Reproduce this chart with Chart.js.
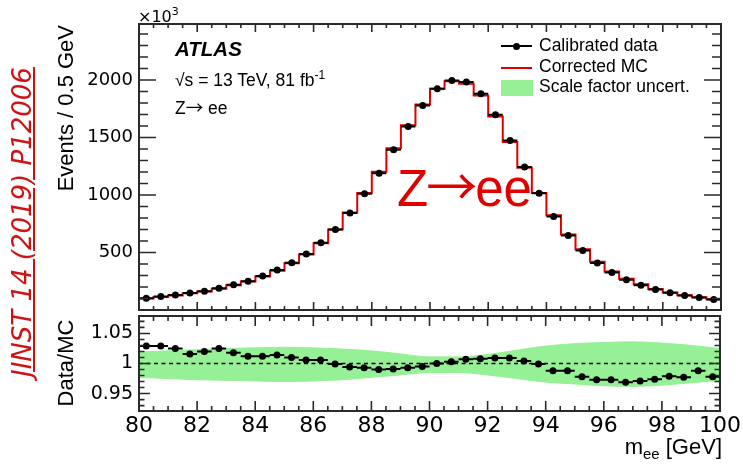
<!DOCTYPE html>
<html>
<head>
<meta charset="utf-8">
<title>Z to ee mass spectrum</title>
<script src="https://cdn.jsdelivr.net/npm/chart.js@4.4.0/dist/chart.umd.min.js"></script>
<style>
html, body { margin: 0; padding: 0; background: #fff; }
#page { position: relative; width: 743px; height: 469px; overflow: hidden;
        font-family: 'Liberation Sans', Arial, sans-serif; color: #000; }
#page canvas { position: absolute; left: 0; top: 0; }
.t { position: absolute; white-space: nowrap; line-height: 1; }
.sym { position: absolute; }
.arrow { font-family: 'Noto Sans CJK JP', 'DejaVu Sans'; line-height: 1; }
</style>
</head>
<body>
<div id="page">
  <canvas id="mainChart" width="743" height="469"></canvas>
  <canvas id="ratioChart" width="743" height="469"></canvas>

  <!-- journal reference, rotated -->
  <div class="t" style="left:22px; top:222px; transform:translate(-50%,-50%) rotate(-90deg);
       font-family:'DejaVu Sans'; font-style:italic; font-size:26px; color:#cc1111; text-decoration:underline;">JINST 14 (2019) P12006</div>

  <!-- axis titles -->
  <div class="t" style="left:66px; top:25px; font-size:22px; transform-origin:0 0; transform:rotate(-90deg) translate(-100%,-50%);">Events / 0.5 GeV</div>
  <div class="t" style="left:66px; top:363px; font-size:22px; transform:translate(-50%,-50%) rotate(-90deg);">Data/MC</div>
  <div class="t" style="right:21px; top:436px; font-size:22px;">m<span style="font-size:15px; position:relative; top:5px;">ee</span> [GeV]</div>
  <div class="t" style="left:138px; top:9px; font-family:'DejaVu Sans'; font-size:16px;">×10<span style="font-size:11px; position:relative; top:-7px;">3</span></div>

  <!-- labels inside the frame -->
  <div class="t" style="left:175px; top:39px; font-size:20.5px; font-weight:bold; font-style:italic;">ATLAS</div>
  <div class="t" style="left:175px; top:72px; font-size:17.5px;">√s = 13 TeV, 81 fb<span style="font-size:12px; position:relative; top:-7px;">-1</span></div>
  <div class="t" style="left:175px; top:98px; font-size:17.5px;">Z<span class="arrow">→</span> ee</div>
  <div class="t" style="left:397px; top:159px; font-size:51px; color:#e00000;">Z<span class="arrow" style="margin:0 -2px;">→</span>ee</div>

  <!-- legend -->
  <div class="sym" style="left:501px; top:45px; width:31px; height:2px; background:#000;"></div>
  <div class="sym" style="left:513px; top:42.5px; width:7px; height:7px; border-radius:50%; background:#000;"></div>
  <div class="t" style="left:539px; top:37px; font-size:17.5px;">Calibrated data</div>
  <div class="sym" style="left:501px; top:66.5px; width:31px; height:2px; background:#e00000;"></div>
  <div class="t" style="left:539px; top:58px; font-size:17.5px;">Corrected MC</div>
  <div class="sym" style="left:501px; top:80px; width:32px; height:16px; background:rgb(150,240,150);"></div>
  <div class="t" style="left:539px; top:78px; font-size:17.5px;">Scale factor uncert.</div>
</div>

<script>
// bins of m_ee, 0.5 GeV wide
const massCenters = [80.25, 80.75, 81.25, 81.75, 82.25, 82.75, 83.25, 83.75, 84.25, 84.75,
                     85.25, 85.75, 86.25, 86.75, 87.25, 87.75, 88.25, 88.75, 89.25, 89.75,
                     90.25, 90.75, 91.25, 91.75, 92.25, 92.75, 93.25, 93.75, 94.25, 94.75,
                     95.25, 95.75, 96.25, 96.75, 97.25, 97.75, 98.25, 98.75, 99.25, 99.75];
const binHalfWidth = 0.25;

// events per bin, in thousands
const dataCounts = [103, 117, 130, 147, 164, 190, 219, 251, 295, 347,
                    410, 486, 584, 699, 843, 1010, 1190, 1393, 1596, 1778,
                    1923, 1996, 1982, 1880, 1697, 1474, 1243, 1016, 813, 648,
                    517, 408, 326, 263, 216, 178, 150, 126, 109, 91];
const mcCounts = [100, 114, 127, 145, 161, 185, 215, 248, 292, 342,
                  406, 483, 581, 700, 848, 1017, 1202, 1406, 1607, 1787,
                  1923, 1990, 1968, 1865, 1682, 1461, 1238, 1017, 823, 656,
                  529, 419, 335, 271, 223, 183, 153, 129, 110, 93];

// data / MC per bin
const ratioValues = [1.029, 1.029, 1.025, 1.016, 1.020, 1.025, 1.018, 1.012, 1.012, 1.014,
                     1.010, 1.006, 1.006, 0.999, 0.994, 0.993, 0.990, 0.991, 0.993, 0.995,
                     1.000, 1.003, 1.007, 1.008, 1.009, 1.009, 1.004, 0.999, 0.988, 0.988,
                     0.978, 0.973, 0.973, 0.969, 0.971, 0.974, 0.979, 0.977, 0.988, 0.978];

// scale factor uncertainty envelope
const bandMass  = [80, 81, 82, 83, 84, 85, 86, 87, 88, 89, 90, 91, 92, 93, 94, 95, 96, 97, 98, 99, 100];
const bandUpper = [1.019, 1.021, 1.023, 1.025, 1.026, 1.027, 1.026, 1.024, 1.021, 1.016, 1.011,
                   1.011, 1.015, 1.022, 1.029, 1.033, 1.035, 1.036, 1.034, 1.030, 1.025];
const bandLower = [0.977, 0.975, 0.973, 0.972, 0.971, 0.970, 0.971, 0.973, 0.977, 0.981, 0.985,
                   0.985, 0.981, 0.975, 0.969, 0.966, 0.963, 0.962, 0.964, 0.968, 0.972];

// tick labels
const massTicks = [80, 82, 84, 86, 88, 90, 92, 94, 96, 98, 100];
const countTicks = [500, 1000, 1500, 2000];
const ratioTicks = [0.95, 1, 1.05];

const green = 'rgb(150,240,150)';
const red = '#e00000';
const tickFont = { family: 'DejaVu Sans', size: 18 };

// histogram outline: one point per left bin edge plus the closing edge
const last = massCenters.length - 1;
const mcSteps = massCenters.map((m, i) => ({ x: m - binHalfWidth, y: mcCounts[i] }));
mcSteps.push({ x: massCenters[last] + binHalfWidth, y: mcCounts[last] });

// horizontal bars across each bin for the data points (dataset 0)
const binBars = {
    id: 'binBars',
    afterDatasetsDraw(chart) {
        const { ctx, scales: { x, y } } = chart;
        ctx.save();
        ctx.strokeStyle = '#000';
        ctx.lineWidth = 2;
        ctx.beginPath();
        chart.data.datasets[0].data.forEach(p => {
            const py = y.getPixelForValue(p.y);
            ctx.moveTo(x.getPixelForValue(p.x - binHalfWidth), py);
            ctx.lineTo(x.getPixelForValue(p.x + binHalfWidth), py);
        });
        ctx.stroke();
        ctx.restore();
    }
};

// frame with inward ticks on all four sides
const frameTicks = {
    id: 'frameTicks',
    afterDraw(chart, args, o) {
        const { ctx, chartArea: a, scales: { x, y } } = chart;
        const isMajor = (v, step) => Math.abs(v / step - Math.round(v / step)) < 1e-6;
        ctx.save();
        ctx.strokeStyle = '#2a2a2a';
        ctx.lineWidth = 1.6;
        ctx.beginPath();
        for (let i = 0; ; i++) {
            const v = o.xFrom + i * o.xMinor;
            if (v > o.xTo + 1e-9) break;
            const px = x.getPixelForValue(v);
            const len = isMajor(v, o.xMajor) ? o.xMajorLen : o.xMinorLen;
            ctx.moveTo(px, a.bottom); ctx.lineTo(px, a.bottom - len);
            ctx.moveTo(px, a.top); ctx.lineTo(px, a.top + len);
        }
        for (let i = 0; ; i++) {
            const v = o.yFrom + i * o.yMinor;
            if (v > o.yTo + 1e-9) break;
            const py = y.getPixelForValue(v);
            const len = isMajor(v, o.yMajor) ? o.yMajorLen : o.yMinorLen;
            ctx.moveTo(a.left, py); ctx.lineTo(a.left + len, py);
            ctx.moveTo(a.right, py); ctx.lineTo(a.right - len, py);
        }
        ctx.stroke();
        ctx.lineWidth = 2;
        ctx.strokeRect(a.left, a.top, a.right - a.left, a.bottom - a.top);
        ctx.restore();
    }
};

const baseOptions = {
    responsive: false,
    animation: false,
    events: [],
    plugins: { legend: { display: false }, tooltip: { enabled: false } }
};

// upper panel: event counts
new Chart(document.getElementById('mainChart'), {
    type: 'line',
    data: {
        datasets: [
            {
                data: massCenters.map((m, i) => ({ x: m, y: dataCounts[i] })),
                showLine: false,
                pointRadius: 3.5,
                pointBackgroundColor: '#000',
                pointBorderColor: '#000',
                pointBorderWidth: 0
            },
            {
                data: mcSteps,
                stepped: 'before',
                borderColor: red,
                borderWidth: 2,
                pointRadius: 0,
                fill: false
            }
        ]
    },
    options: {
        ...baseOptions,
        layout: { padding: { left: 0, top: 24, right: 22, bottom: 159 } },
        scales: {
            x: { type: 'linear', min: 80, max: 100, display: false },
            y: {
                min: 0, max: 2487,
                afterFit: s => { s.width = 139; },
                afterBuildTicks: s => { s.ticks = countTicks.map(v => ({ value: v })); },
                grid: { display: false, drawTicks: false },
                border: { display: false },
                ticks: { padding: 6, color: '#000', font: tickFont, callback: v => String(v) }
            }
        },
        plugins: {
            ...baseOptions.plugins,
            frameTicks: { xFrom: 80, xTo: 100, xMinor: 0.5, xMajor: 2, xMajorLen: 8, xMinorLen: 4,
                          yFrom: 0, yTo: 2400, yMinor: 100, yMajor: 500, yMajorLen: 17, yMinorLen: 9 }
        }
    },
    plugins: [binBars, frameTicks]
});

// lower panel: data / MC
new Chart(document.getElementById('ratioChart'), {
    type: 'line',
    data: {
        datasets: [
            {
                data: massCenters.map((m, i) => ({ x: m, y: ratioValues[i] })),
                showLine: false,
                pointRadius: 3.5,
                pointBackgroundColor: '#000',
                pointBorderColor: '#000',
                pointBorderWidth: 0
            },
            {
                data: [{ x: 80, y: 1 }, { x: 100, y: 1 }],
                borderColor: '#000',
                borderWidth: 1.5,
                borderDash: [4, 3.5],
                pointRadius: 0,
                fill: false
            },
            {
                data: bandMass.map((m, i) => ({ x: m, y: bandUpper[i] })),
                borderColor: green,
                borderWidth: 1,
                backgroundColor: green,
                cubicInterpolationMode: 'monotone',
                pointRadius: 0,
                fill: '+1'
            },
            {
                data: bandMass.map((m, i) => ({ x: m, y: bandLower[i] })),
                borderColor: green,
                borderWidth: 1,
                cubicInterpolationMode: 'monotone',
                pointRadius: 0,
                fill: false
            }
        ]
    },
    options: {
        ...baseOptions,
        layout: { padding: { left: 0, top: 316, right: 22, bottom: 0 } },
        scales: {
            x: {
                type: 'linear', min: 80, max: 100,
                afterFit: s => { s.height = 58; },
                afterBuildTicks: s => { s.ticks = massTicks.map(v => ({ value: v })); },
                grid: { display: false, drawTicks: false },
                border: { display: false },
                ticks: { padding: 2, color: '#000', autoSkip: false, maxRotation: 0,
                         font: { family: 'DejaVu Sans', size: 22 }, callback: v => String(v) }
            },
            y: {
                min: 0.921, max: 1.079,
                afterFit: s => { s.width = 139; },
                afterBuildTicks: s => { s.ticks = ratioTicks.map(v => ({ value: v })); },
                grid: { display: false, drawTicks: false },
                border: { display: false },
                ticks: { padding: 6, color: '#000', font: { family: 'DejaVu Sans', size: 19 },
                         callback: v => String(v) }
            }
        },
        plugins: {
            ...baseOptions.plugins,
            frameTicks: { xFrom: 80, xTo: 100, xMinor: 0.5, xMajor: 2, xMajorLen: 10, xMinorLen: 5,
                          yFrom: 0.93, yTo: 1.07, yMinor: 0.01, yMajor: 0.05, yMajorLen: 11, yMinorLen: 5.5 }
        }
    },
    plugins: [binBars, frameTicks]
});
</script>
</body>
</html>
